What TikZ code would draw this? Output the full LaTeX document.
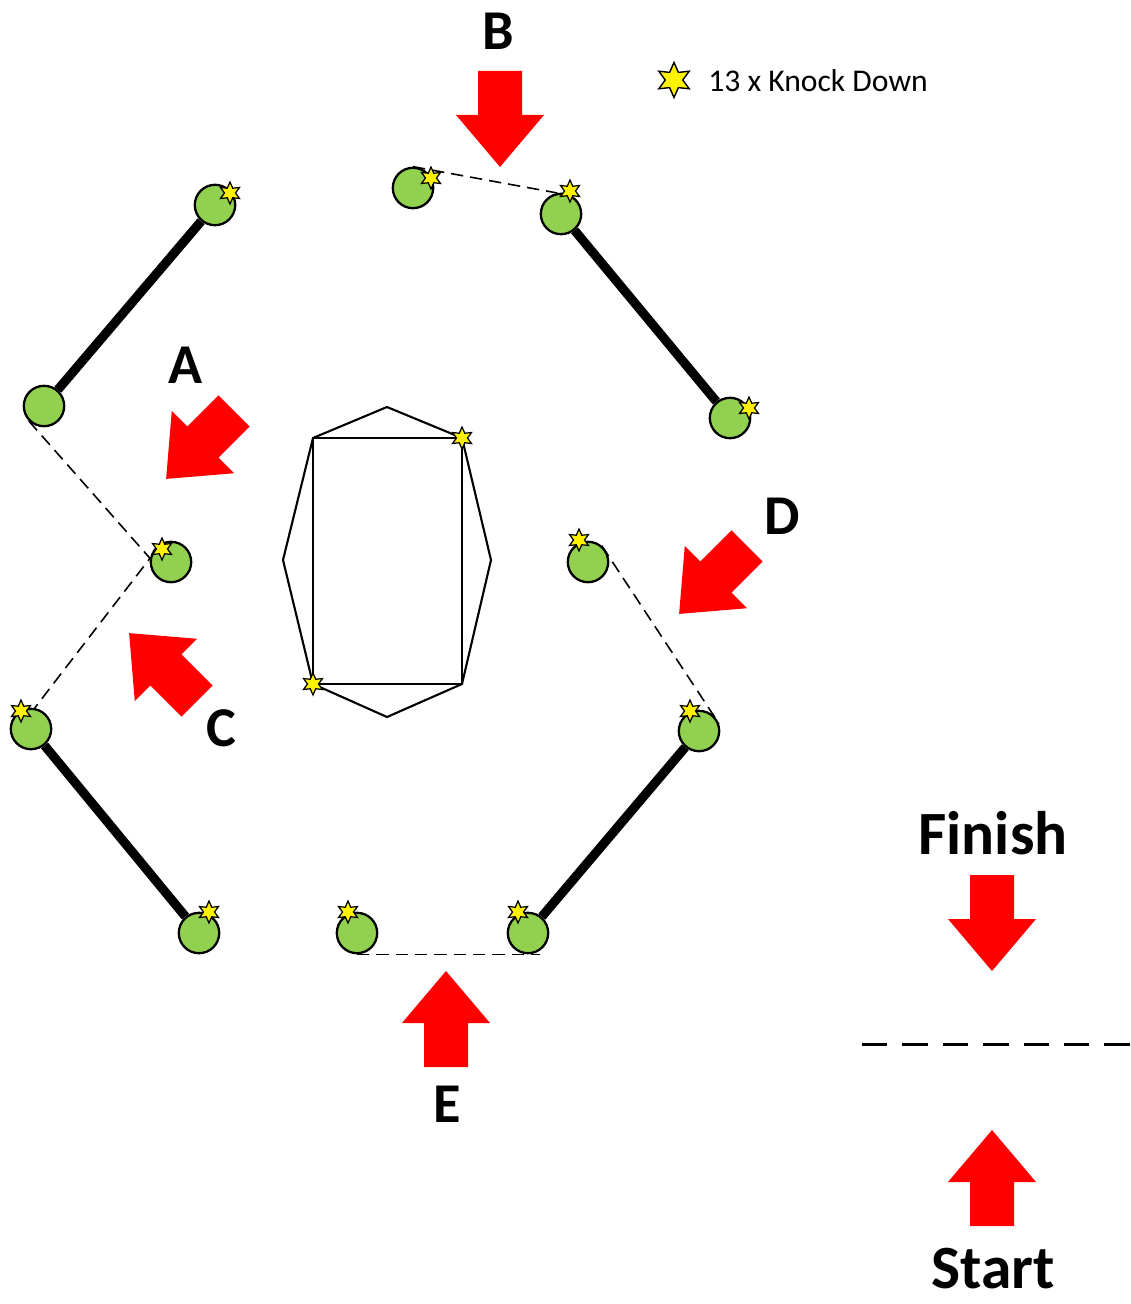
\documentclass[tikz,border=0pt]{standalone}
\usepackage{fontspec}
\setmainfont{Carlito}
\usetikzlibrary{shapes.geometric,backgrounds}
\definecolor{postgreen}{HTML}{92D050}
\definecolor{arrowred}{HTML}{FF0000}
\tikzset{
	post/.style={circle, draw=black, line width=1.3pt, fill=postgreen, minimum size=23pt, inner sep=0pt},
	kd/.style={star, star points=6, star point ratio=2, draw=black, line width=0.7pt, fill=yellow, minimum size=12.5pt, inner sep=0pt},
	rail/.style={black, line width=5.2pt},
	route/.style={black, line width=0.9pt, dash pattern=on 7pt off 4pt},
	letter/.style={font=\bfseries\fontsize{32}{38}\selectfont},
	redarrow/.pic={\fill[arrowred] (0,-22) -- (44,-22) -- (44,-44) -- (96,0) -- (44,44) -- (44,22) -- (0,22) -- cycle;}
}
\begin{document}
\begin{tikzpicture}[x=0.02cm, y=-0.02cm]
		\useasboundingbox (0,0) rectangle (1131,1304);

		% posts
		\node[post] (p1) at (215,205) {};
		\node[post] (p2) at (44,406) {};
		\node[post] (p3) at (413,188) {};
		\node[post] (p4) at (561,214) {};
		\node[post] (p5) at (730,418) {};
		\node[post] (p6) at (171,562) {};
		\node[post] (p7) at (588,562) {};
		\node[post] (p8) at (31,729) {};
		\node[post] (p9) at (699,731) {};
		\node[post] (p10) at (199,933) {};
		\node[post] (p11) at (357,933) {};
		\node[post] (p12) at (528,933) {};

		\begin{scope}[on background layer]
			\draw[rail] (p1) -- (p2);
			\draw[rail] (p4) -- (p5);
			\draw[rail] (p8) -- (p10);
			\draw[rail] (p12) -- (p9);
		\end{scope}

		\draw[route] (p3.north) -- (p4.100);
		\draw[route] (p2.225) -- (p6.170) -- (p8.80);
		\draw[route] (p7.50) -- (p9.20);
		\draw[route] (p11.south) -- ([xshift=7pt]p12.south);

		% centre box
		\coordinate (bx1) at (313,438);
		\coordinate (bx2) at (462,438);
		\coordinate (bx3) at (462,684);
		\coordinate (bx4) at (313,684);
		\draw[black, line width=1.2pt, line join=round] (387,407) -- (bx2) -- (491,560) -- (bx3) -- (387,717) -- (bx4) -- (283,560) -- (bx1) -- cycle;
		\draw[black, line width=1.2pt] (bx1) -- (bx2) -- (bx3) -- (bx4) -- cycle;

		% knock downs
		\node[kd] (kd1) at (230,193) {};
		\node[kd] (kd2) at (431,178) {};
		\node[kd] (kd3) at (570,191) {};
		\node[kd] (kd4) at (749,408) {};
		\node[kd] (kd5) at (162,549) {};
		\node[kd] (kd6) at (579,540) {};
		\node[kd] (kd7) at (21,711) {};
		\node[kd] (kd8) at (690,711) {};
		\node[kd] (kd9) at (209,912) {};
		\node[kd] (kd10) at (348,912) {};
		\node[kd] (kd11) at (518,912) {};
		\node[kd] (kd12) at (bx2) {};
		\node[kd] (kd13) at (bx4) {};

		% approaches
		\pic[rotate=270] at (500,71) {redarrow};
		\pic[rotate=225] at (234,411) {redarrow};
		\pic[rotate=135] at (197,701) {redarrow};
		\pic[rotate=225] at (747,546) {redarrow};
		\pic[rotate=90] at (446,1067) {redarrow};
		\pic[rotate=270] at (992,875) {redarrow};
		\pic[rotate=90] at (992,1226) {redarrow};

		\node[letter] (lblA) at (186,365) {A};
		\node[letter] (lblB) at (498,31) {B};
		\node[letter] (lblC) at (221,728) {C};
		\node[letter] (lblD) at (782,516) {D};
		\node[letter] (lblE) at (447,1104) {E};

		% legend
		\node[kd, minimum size=20pt, line width=0.8pt] (kdkey) at (674,80) {};
		\node[font=\fontsize{18}{22}\selectfont] (keytext) at (818,81) {13 x Knock Down};

		\node[font=\bfseries\fontsize{35}{42}\selectfont, inner sep=0pt] (finish) at (993,833) {Finish};
		\node[font=\bfseries\fontsize{35}{42}\selectfont, inner sep=0pt] (start) at (993,1269) {Start};
		\coordinate (lineL) at (862,1044);
		\coordinate (lineR) at (1131,1044);
		\draw[black, line width=1.7pt, dash pattern=on 14.4pt off 8.6pt] (lineL) -- (lineR);
	\end{tikzpicture}
\end{document}
